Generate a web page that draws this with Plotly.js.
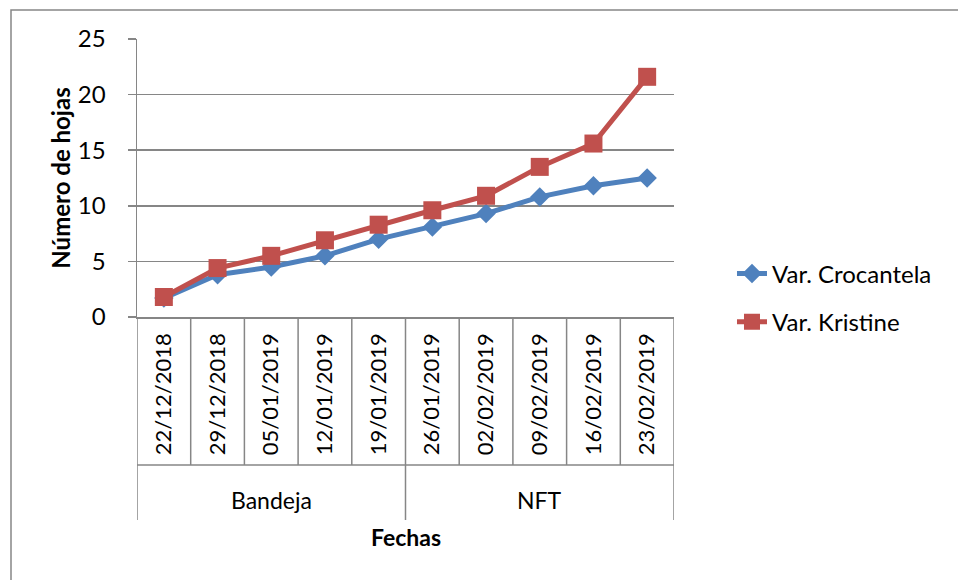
<!DOCTYPE html>
<html>
<head>
<meta charset="utf-8">
<script src="https://cdn.plot.ly/plotly-3.0.1.min.js"></script>
<style>html,body{margin:0;padding:0;background:#fff;}#chart{width:958px;height:580px;}</style>
</head>
<body>
<div id="chart"></div>
<script>
const dates = ["22/12/2018","29/12/2018","05/01/2019","12/01/2019","19/01/2019","26/01/2019","02/02/2019","09/02/2019","16/02/2019","23/02/2019"];
const groups = ["Bandeja","Bandeja","Bandeja","Bandeja","Bandeja","NFT","NFT","NFT","NFT","NFT"];
const crocantela = [1.7, 3.8, 4.5, 5.5, 7.0, 8.1, 9.3, 10.8, 11.8, 12.5];
const kristine = [1.8, 4.4, 5.5, 6.9, 8.3, 9.6, 10.9, 13.5, 15.6, 21.6];
const seriesNames = ["Var. Crocantela", "Var. Kristine"];
const yTicks = [0, 5, 10, 15, 20, 25];

const FONT = "Lato, 'Open Sans', sans-serif";
const GRID = "#868686";

const traces = [
  {x: dates, y: crocantela, name: seriesNames[0], type: "scatter", mode: "lines+markers",
   legendgroup: "a",
   line: {color: "#4F81BD", width: 5}, marker: {symbol: "diamond", size: 15, color: "#4F81BD"}},
  {x: dates, y: kristine, name: seriesNames[1], type: "scatter", mode: "lines+markers",
   legendgroup: "b",
   line: {color: "#C0504D", width: 5}, marker: {symbol: "square", size: 18, color: "#C0504D"}}
];

const PH = 278;
const yLabelBottom = -(465 - 317) / PH;
const yGroupBottom = -(520 - 317) / PH;

const shapes = [];
for (let i = 0; i <= dates.length; i++) {
  const isGroupEdge = (i === 0 || i === dates.length || groups[i] !== groups[i - 1]);
  shapes.push({type: "line", xref: "x", yref: "paper", x0: i - 0.5, x1: i - 0.5,
    y0: 0, y1: isGroupEdge ? yGroupBottom : yLabelBottom, line: {color: GRID, width: 1.5}});
}
shapes.push({type: "line", xref: "x", yref: "paper", x0: -0.5, x1: dates.length - 0.5,
  y0: yLabelBottom, y1: yLabelBottom, line: {color: GRID, width: 1.5}});
shapes.push({type: "rect", xref: "paper", yref: "paper", x0: (11 - 137) / 537, x1: 1.7,
  y0: -1.2, y1: (317 - 10) / PH, line: {color: GRID, width: 1.5}});

const annotations = [];
const uniq = [...new Set(groups)];
uniq.forEach(g => {
  const idx = groups.map((v, i) => v === g ? i : -1).filter(i => i >= 0);
  const c = (idx[0] + idx[idx.length - 1]) / 2;
  annotations.push({x: c, y: -(500 - 317) / PH, xref: "x", yref: "paper", text: g,
    xanchor: "center", yanchor: "middle",
    showarrow: false, font: {family: FONT, size: 23, color: "#000"}});
});
annotations.push({x: 0.5, y: -(537 - 317) / PH, xref: "paper", yref: "paper", text: "<b>Fechas</b>",
  xanchor: "center", yanchor: "middle",
  showarrow: false, font: {family: FONT, size: 23, color: "#000"}});

const layout = {
  width: 958, height: 580,
  margin: {l: 137, r: 284, t: 39, b: 263},
  paper_bgcolor: "#fff", plot_bgcolor: "#fff",
  font: {family: FONT, size: 22, color: "#000"},
  showlegend: true,
  legend: {x: 1.108, y: (317 - 298) / PH, xanchor: "left", yanchor: "middle",
    traceorder: "grouped", tracegroupgap: 14, font: {family: FONT, size: 24, color: "#000"},
    bgcolor: "rgba(0,0,0,0)"},
  xaxis: {type: "category", showgrid: false, showline: true, linecolor: GRID, linewidth: 1.5,
    ticks: "", tickangle: -90, tickfont: {family: FONT, size: 22, color: "#000"},
    ticklabelstandoff: 6, range: [-0.5, dates.length - 0.5], fixedrange: true, zeroline: false},
  yaxis: {range: [0, 25], tickvals: yTicks, showgrid: true, gridcolor: GRID, gridwidth: 1.5,
    showline: true, linecolor: GRID, linewidth: 1.5, ticks: "outside", ticklen: 8, tickcolor: GRID,
    tickwidth: 1.5, ticklabelstandoff: 17, zeroline: false,
    tickfont: {family: FONT, size: 24, color: "#000"},
    title: {text: "<b>Número de hojas</b>", font: {family: FONT, size: 24, color: "#000"}, standoff: 0}},
  shapes: shapes,
  annotations: annotations
};

Plotly.newPlot("chart", traces, layout, {displayModeBar: false, staticPlot: true});
</script>
</body>
</html>
